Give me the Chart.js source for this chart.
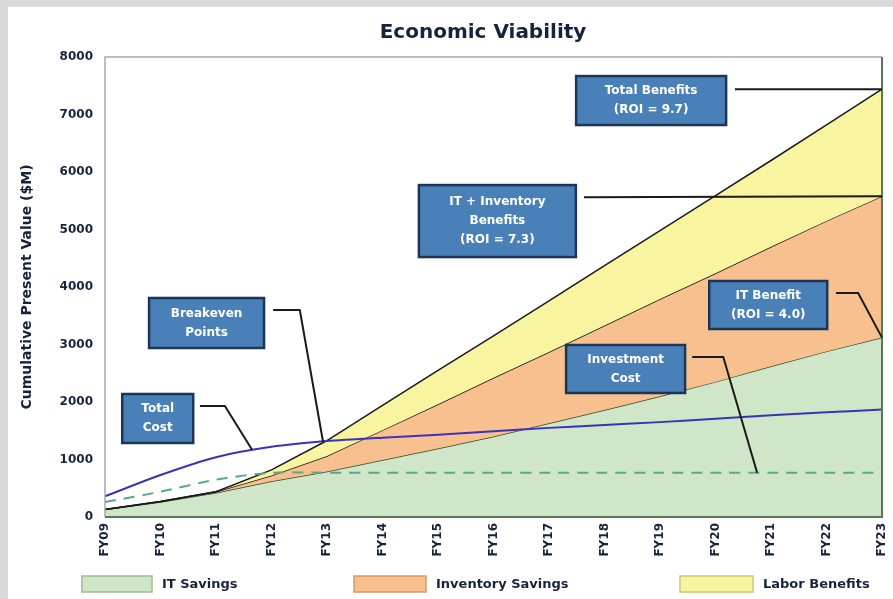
<!DOCTYPE html>
<html>
<head>
<meta charset="utf-8">
<script src="https://cdn.jsdelivr.net/npm/chart.js@4.4.1/dist/chart.umd.min.js"></script>
<style>
  html, body { margin: 0; padding: 0; background: #fff; }
  #wrap { width: 893px; height: 599px; position: relative; }
</style>
</head>
<body>
<div id="wrap"><canvas id="chart" width="893" height="599"></canvas></div>
<script>
// values ($M, cumulative present value)
const years = ['FY09', 'FY10', 'FY11', 'FY12', 'FY13', 'FY14', 'FY15', 'FY16', 'FY17', 'FY18', 'FY19', 'FY20', 'FY21', 'FY22', 'FY23'];
const itBenefit = [130, 260, 420, 620, 790, 990, 1190, 1400, 1630, 1860, 2100, 2350, 2620, 2880, 3120];
const itInvBenefit = [130, 270, 440, 720, 1060, 1510, 1960, 2420, 2870, 3330, 3790, 4240, 4700, 5150, 5580];
const totalBenefit = [130, 270, 440, 820, 1330, 1940, 2550, 3150, 3760, 4370, 4980, 5590, 6200, 6820, 7440];
const totalCost = [360, 730, 1040, 1220, 1320, 1380, 1430, 1490, 1550, 1600, 1650, 1710, 1770, 1820, 1870];
const investmentCost = [260, 440, 650, 770, 770, 770, 770, 770, 770, 770, 770, 770, 770, 770, 770];
const yTicks = [0, 1000, 2000, 3000, 4000, 5000, 6000, 7000, 8000];

const legendItems = ['IT Savings', 'Inventory Savings', 'Labor Benefits'];

// callouts: box centre and leader path in data units (x = category index, y = $M)
const callouts = [
  { lines: ['Total Benefits', '(ROI = 9.7)'], at: [9.84, 7243], w: 150, h: 49, path: [[11.35, 7440], [14, 7440]] },
  { lines: ['IT + Inventory', 'Benefits', '(ROI = 7.3)'], at: [7.07, 5147], w: 157, h: 72, path: [[8.63, 5560], [14, 5580]] },
  { lines: ['IT Benefit', '(ROI = 4.0)'], at: [11.95, 3687], w: 118, h: 48, path: [[13.17, 3895], [13.57, 3895], [14, 3120]] },
  { lines: ['Investment', 'Cost'], at: [9.38, 2574], w: 119, h: 48, path: [[10.58, 2783], [11.14, 2783], [11.75, 770]] },
  { lines: ['Breakeven', 'Points'], at: [1.83, 3374], w: 115, h: 50, path: [[3.03, 3600], [3.51, 3600], [3.93, 1300]] },
  { lines: ['Total', 'Cost'], at: [0.95, 1713], w: 71, h: 49, path: [[1.71, 1930], [2.16, 1930], [2.65, 1170]] }
];

const navy = '#17223d';
const FONT = '"DejaVu Sans", Verdana, sans-serif';

const decor = {
  id: 'decor',
  beforeDraw(chart) {
    const ctx = chart.ctx;
    ctx.save();
    ctx.fillStyle = '#fff';
    ctx.fillRect(0, 0, chart.width, chart.height);
    ctx.fillStyle = '#d9d9d9';
    ctx.fillRect(0, 0, chart.width, 7);
    ctx.fillRect(0, 0, 8, chart.height);
    ctx.restore();
  },
  afterDatasetsDraw(chart) {
    const ctx = chart.ctx;
    const xs = chart.scales.x, ys = chart.scales.y;
    const area = chart.chartArea;
    ctx.save();
    // frame
    ctx.strokeStyle = '#a8a8a8';
    ctx.lineWidth = 1.5;
    ctx.beginPath();
    ctx.moveTo(area.left, area.bottom);
    ctx.lineTo(area.left, area.top);
    ctx.lineTo(area.right, area.top);
    ctx.stroke();
    ctx.strokeStyle = '#557a55';
    ctx.lineWidth = 2;
    ctx.beginPath();
    ctx.moveTo(area.left, area.bottom);
    ctx.lineTo(area.right, area.bottom);
    ctx.lineTo(area.right, area.top);
    ctx.stroke();

    // callouts
    callouts.forEach(c => {
      ctx.strokeStyle = '#1a1a1a';
      ctx.lineWidth = 2;
      ctx.beginPath();
      c.path.forEach((p, i) => {
        const px = xs.getPixelForValue(p[0]);
        const py = ys.getPixelForValue(p[1]);
        if (i === 0) ctx.moveTo(px, py); else ctx.lineTo(px, py);
      });
      ctx.stroke();

      const cx = xs.getPixelForValue(c.at[0]);
      const cy = ys.getPixelForValue(c.at[1]);
      ctx.fillStyle = '#4a80b8';
      ctx.fillRect(cx - c.w / 2, cy - c.h / 2, c.w, c.h);
      ctx.strokeStyle = '#1d3557';
      ctx.lineWidth = 2.5;
      ctx.strokeRect(cx - c.w / 2, cy - c.h / 2, c.w, c.h);
      ctx.fillStyle = '#fff';
      ctx.font = 'bold 12px ' + FONT;
      ctx.textAlign = 'center';
      ctx.textBaseline = 'middle';
      const lh = 19;
      const y0 = cy - (c.lines.length - 1) * lh / 2;
      c.lines.forEach((t, i) => ctx.fillText(t, cx, y0 + i * lh));
    });
    ctx.restore();
  },
  afterDraw(chart) {
    const ctx = chart.ctx;
    ctx.save();
    // title
    ctx.fillStyle = navy;
    ctx.font = 'bold 20px ' + FONT;
    ctx.textAlign = 'center';
    ctx.textBaseline = 'middle';
    ctx.fillText('Economic Viability', 483, 33);
    // y axis title
    ctx.translate(27, 287);
    ctx.rotate(-Math.PI / 2);
    ctx.font = 'bold 14px ' + FONT;
    ctx.fillText('Cumulative Present Value ($M)', 0, 0);
    ctx.restore();

    // legend
    ctx.save();
    const swatches = [[82, 152], [354, 426], [680, 753]];
    const fills = ['#d0e6c8', '#f8c08e', '#f8f4a0'];
    const edges = ['#9cc08f', '#d49a68', '#cfc870'];
    legendItems.forEach((t, i) => {
      const [a, b] = swatches[i];
      ctx.fillStyle = fills[i];
      ctx.fillRect(a, 576, b - a, 16);
      ctx.strokeStyle = edges[i];
      ctx.lineWidth = 1.5;
      ctx.strokeRect(a, 576, b - a, 16);
      ctx.fillStyle = navy;
      ctx.font = 'bold 13px ' + FONT;
      ctx.textAlign = 'left';
      ctx.textBaseline = 'middle';
      ctx.fillText(t, b + 10, 585);
    });
    ctx.restore();
  }
};

const edge = '#1a1a1a';
new Chart(document.getElementById('chart'), {
  type: 'line',
  data: {
    labels: years,
    datasets: [
      { label: 'IT Savings', data: itBenefit, fill: 'origin', backgroundColor: '#d0e6c8', borderColor: '#2e4a2a', borderWidth: 1.5, pointRadius: 0, tension: 0, order: 3 },
      { label: 'Inventory Savings', data: itInvBenefit, fill: '-1', backgroundColor: '#f8c08e', borderColor: edge, borderWidth: 1.5, pointRadius: 0, tension: 0, order: 2 },
      { label: 'Labor Benefits', data: totalBenefit, fill: '-1', backgroundColor: '#f8f4a0', borderColor: edge, borderWidth: 1.5, pointRadius: 0, tension: 0, order: 1 },
      { label: 'Investment Cost', data: investmentCost, fill: false, borderColor: '#5aa88a', borderWidth: 2, borderDash: [11, 8], pointRadius: 0, tension: 0.25, order: 0 },
      { label: 'Total Cost', data: totalCost, fill: false, borderColor: '#3a33b8', borderWidth: 2, pointRadius: 0, tension: 0.25, order: 0 }
    ]
  },
  options: {
    responsive: false,
    animation: false,
    layout: { padding: { top: 57, right: 11, left: 0, bottom: 0 } },
    plugins: {
      legend: { display: false },
      title: { display: false },
      tooltip: { enabled: false }
    },
    scales: {
      x: {
        offset: false,
        grid: { display: false, drawTicks: false },
        border: { display: false },
        ticks: {
          autoSkip: false, minRotation: 90, maxRotation: 90, padding: 6,
          color: navy, font: { family: FONT, weight: 'bold', size: 12 }
        },
        afterFit(s) { s.height = 82; s.paddingLeft = 0; s.paddingRight = 0; }
      },
      y: {
        min: 0, max: 8000,
        grid: { display: false, drawTicks: false },
        border: { display: false },
        afterBuildTicks(s) { s.ticks = yTicks.map(v => ({ value: v })); },
        ticks: {
          padding: 12, color: navy, font: { family: FONT, weight: 'bold', size: 12 },
          callback: v => String(v)
        },
        afterFit(s) { s.width = 105; s.paddingTop = 0; s.paddingBottom = 0; }
      }
    }
  },
  plugins: [decor]
});
</script>
</body>
</html>
